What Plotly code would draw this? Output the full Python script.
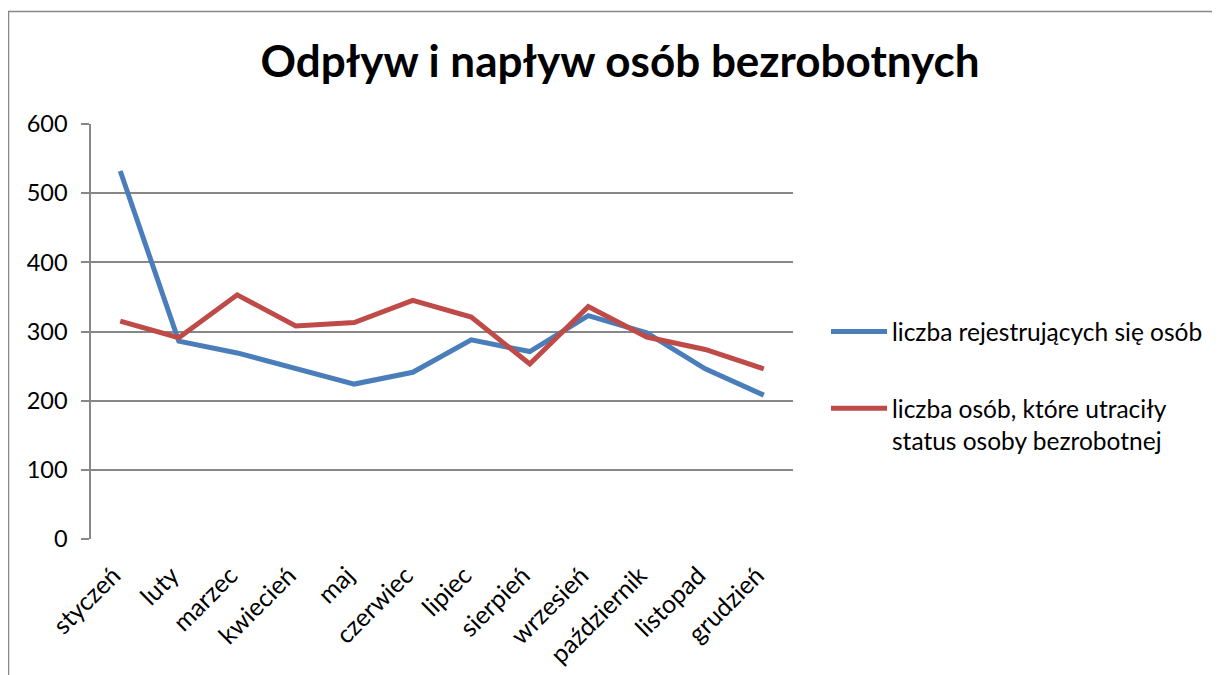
import plotly.graph_objects as go

months = ["styczeń", "luty", "marzec", "kwiecień", "maj", "czerwiec", "lipiec",
          "sierpień", "wrzesień", "październik", "listopad", "grudzień"]
registered = [532, 286, 269, 246, 224, 241, 288, 271, 323, 298, 246, 208]
lost_status = [315, 291, 353, 308, 313, 345, 321, 253, 336, 292, 274, 246]
series_names = ["liczba rejestrujących się osób",
                "liczba osób, które utraciły<br>status osoby bezrobotnej"]
y_ticks = [0, 100, 200, 300, 400, 500, 600]

FONT = "Lato, 'Open Sans', sans-serif"
W, H = 1220, 675
OFF = 8  # page body margin offset
L, R, T, B = 91 - OFF, 793 - OFF, 124 - OFF, 539 - OFF

fig = go.Figure()
fig.add_trace(go.Scatter(x=months, y=registered, mode="lines", name=series_names[0],
                         line=dict(color="#4A7EBB", width=5), legendgroup="a"))
fig.add_trace(go.Scatter(x=months, y=lost_status, mode="lines", name=series_names[1],
                         line=dict(color="#BE4B48", width=5), legendgroup="b"))

pw = R - L
ph = B - T
fig.update_layout(
    width=W, height=H,
    margin=dict(l=L, r=W - R, t=T, b=H - B, autoexpand=False),
    paper_bgcolor="white", plot_bgcolor="white",
    font=dict(family=FONT, size=20, color="black"),
    title=dict(text="<b>Odpływ i napływ osób bezrobotnych</b>",
               font=dict(family=FONT, size=44, color="black"),
               x=(620 - OFF) / W, xanchor="center", xref="container",
               y=1 - (62 - OFF) / H, yanchor="middle", yref="container"),
    xaxis=dict(type="category", range=[-0.5, 11.5], showgrid=False,
               tickangle=-45, ticks="", showline=False, zeroline=False,
               ticklabelstandoff=16, ticklabelshift=-7,
               tickfont=dict(size=25)),
    yaxis=dict(range=[0, 600], tickvals=y_ticks, showgrid=True,
               gridcolor="#878787", gridwidth=1.5, showline=True,
               linecolor="#878787", linewidth=1.5, ticks="outside",
               ticklen=8, tickcolor="#878787", tickwidth=1.5,
               ticklabelstandoff=9,
               zeroline=False, tickfont=dict(size=23.5)),
    showlegend=True,
    legend=dict(x=(826 - OFF - L) / pw, xanchor="left", y=(B - (309 - OFF)) / ph, yanchor="top",
                tracegroupgap=42, valign="top", bgcolor="rgba(0,0,0,0)",
                font=dict(size=24.5), itemwidth=56),
    shapes=[dict(type="rect", xref="paper", yref="paper",
                 x0=(8.5 - OFF - L) / pw, x1=(W + 20 - L) / pw,
                 y0=(B - (H + 20)) / ph, y1=(B - (11.5 - OFF)) / ph,
                 line=dict(color="#878787", width=1.5), fillcolor="rgba(0,0,0,0)",
                 layer="below")],
)

fig.write_html("out.html")
